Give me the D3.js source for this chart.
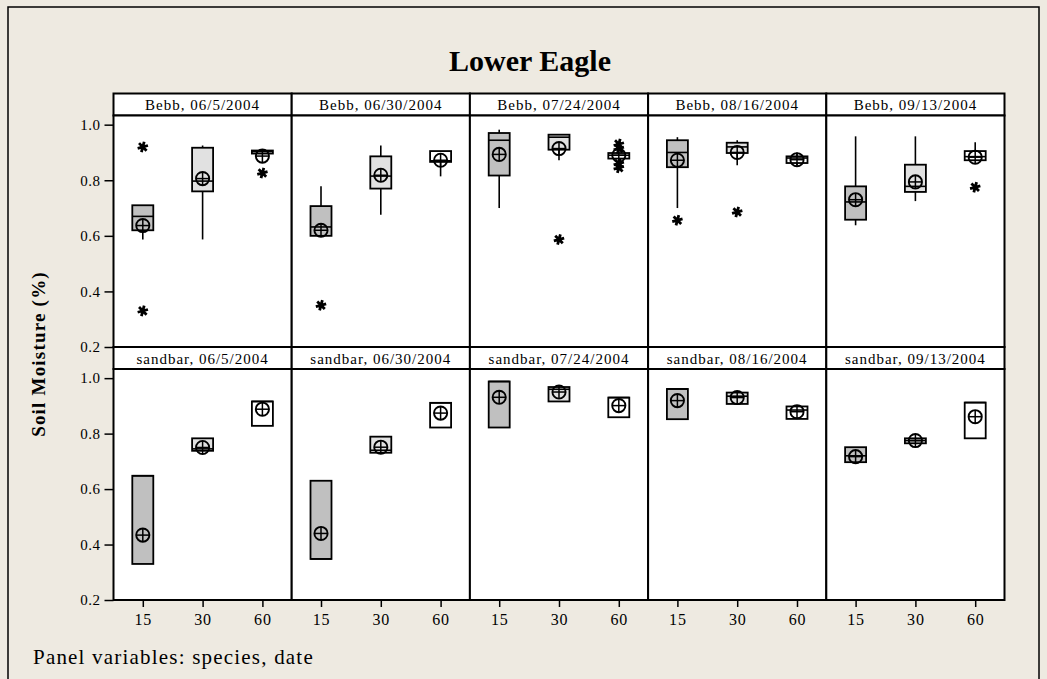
<!DOCTYPE html>
<html><head><meta charset="utf-8">
<script src="https://cdn.jsdelivr.net/npm/d3@7"></script>
<style>body{margin:0;background:#eeeae1;} svg{display:block;}</style>
</head><body>
<svg id="c" width="1047" height="679"></svg>
<script>
// ---- data ----
const speciesList = ["Bebb", "sandbar"];
const dateList = ["06/5/2004", "06/30/2004", "07/24/2004", "08/16/2004", "09/13/2004"];
const depths = ["15", "30", "60"];
const yTicks = [0.2, 0.4, 0.6, 0.8, 1.0];
// per panel (species-major, then date), per depth [15,30,60]
const whiskerLow = [
  [0.587, 0.587, 0.896], [0.600, 0.676, 0.814], [0.700, 0.872, 0.878], [0.700, 0.854, 0.855], [0.638, 0.725, 0.872],
  [0.330, 0.738, 0.828], [0.348, 0.731, 0.822], [0.822, 0.916, 0.859], [0.852, 0.907, 0.853], [0.697, 0.765, 0.783]
];
const q1 = [
  [0.620, 0.760, 0.896], [0.600, 0.770, 0.866], [0.817, 0.910, 0.878], [0.847, 0.898, 0.862], [0.658, 0.758, 0.872],
  [0.330, 0.738, 0.828], [0.348, 0.731, 0.822], [0.822, 0.916, 0.859], [0.852, 0.907, 0.853], [0.697, 0.765, 0.783]
];
const median = [
  [0.670, 0.797, 0.903], [0.632, 0.815, 0.870], [0.944, 0.955, 0.890], [0.900, 0.920, 0.880], [0.722, 0.778, 0.885],
  [0.648, 0.745, 0.916], [0.348, 0.740, 0.911], [0.988, 0.960, 0.930], [0.961, 0.935, 0.885], [0.720, 0.775, 0.912]
];
const q3 = [
  [0.710, 0.917, 0.907], [0.707, 0.886, 0.905], [0.970, 0.964, 0.898], [0.944, 0.935, 0.886], [0.778, 0.856, 0.905],
  [0.648, 0.783, 0.916], [0.630, 0.789, 0.911], [0.988, 0.968, 0.930], [0.961, 0.948, 0.898], [0.751, 0.783, 0.912]
];
const whiskerHigh = [
  [0.710, 0.925, 0.907], [0.778, 0.925, 0.905], [0.982, 0.964, 0.898], [0.955, 0.944, 0.900], [0.958, 0.958, 0.937],
  [0.648, 0.783, 0.916], [0.630, 0.789, 0.911], [0.988, 0.968, 0.930], [0.961, 0.948, 0.898], [0.751, 0.783, 0.912]
];
const means = [
  [0.637, 0.806, 0.887], [0.620, 0.818, 0.872], [0.893, 0.914, 0.890], [0.872, 0.900, 0.874], [0.730, 0.794, 0.883],
  [0.434, 0.750, 0.888], [0.440, 0.751, 0.874], [0.931, 0.950, 0.901], [0.919, 0.930, 0.879], [0.717, 0.775, 0.861]
];
const outliers = [
  [[0.92, 0.33], [], [0.826]], [[0.35], [], []], [[], [0.587], [0.93, 0.914, 0.86, 0.845]],
  [[0.656], [0.686], []], [[], [], [0.775]],
  [[], [], []], [[], [], []], [[], [], []], [[], [], []], [[], [], []]
];
const boxFill = ["#c0c0c0", "#e1e1e1", "#ffffff"];

// ---- layout ----
const svg = d3.select("#c");
const W = 1047, H = 679;
const font = "'Liberation Serif', 'Times New Roman', serif";
svg.append("rect").attr("x", 0).attr("y", 0).attr("width", W).attr("height", H).attr("fill", "#eeeae1");
svg.append("rect").attr("x", 8).attr("y", 7).attr("width", 1031).attr("height", 700)
  .attr("fill", "none").attr("stroke", "#000").attr("stroke-width", 1.5);

const left = 113.5, right = 1004.5;
const colX = d3.scaleBand().domain(d3.range(5)).range([left, right]).paddingInner(0).paddingOuter(0);
const rows = [{stripTop: 93.5, plotTop: 115.5, plotBottom: 347}, {stripTop: 347, plotTop: 369, plotBottom: 600}];
const xInner = d3.scalePoint().domain(depths).range([0, colX.bandwidth()]).padding(0.49);
const boxW = 21;

svg.append("text").attr("x", 530).attr("y", 71).attr("text-anchor", "middle")
  .attr("font-family", font).attr("font-weight", "bold").attr("font-size", 30).text("Lower Eagle");

svg.append("text").attr("transform", "translate(45,354) rotate(-90)").attr("text-anchor", "middle")
  .attr("font-family", font).attr("font-weight", "bold").attr("font-size", 19).attr("letter-spacing", 1.2)
  .text("Soil Moisture (%)");

svg.append("text").attr("x", 33).attr("y", 664).attr("font-family", font).attr("font-size", 21)
  .attr("letter-spacing", 1.2).text("Panel variables: species, date");

const asterisk = d3.symbol().type(d3.symbolAsterisk).size(80);

rows.forEach((row, ri) => {
  const y = d3.scaleLinear().domain([0.2, 1.033]).range([row.plotBottom, row.plotTop]);
  // y axis
  const ya = svg.append("g").attr("transform", `translate(${left},0)`)
    .call(d3.axisLeft(y).tickValues(yTicks).tickFormat(d3.format(".1f")).tickSize(9).tickPadding(4));
  ya.select(".domain").remove();
  ya.selectAll("line").attr("stroke-width", 1.5);
  ya.selectAll("text").attr("font-family", font).attr("font-size", 15).attr("fill", "#000").attr("letter-spacing", 0.5);

  dateList.forEach((dt, ci) => {
    const p = ri * 5 + ci;
    const x0 = colX(ci), w = colX.bandwidth();
    const g = svg.append("g").attr("transform", `translate(${x0},0)`);
    // strip
    g.append("rect").attr("x", 0).attr("y", row.stripTop).attr("width", w).attr("height", row.plotTop - row.stripTop)
      .attr("fill", "#fff").attr("stroke", "#000").attr("stroke-width", 2);
    g.append("text").attr("x", w / 2).attr("y", row.stripTop + 16.5).attr("text-anchor", "middle")
      .attr("font-family", font).attr("font-size", 15).attr("letter-spacing", 1)
      .text(`${speciesList[ri]}, ${dt}`);
    // plot area
    g.append("rect").attr("x", 0).attr("y", row.plotTop).attr("width", w).attr("height", row.plotBottom - row.plotTop)
      .attr("fill", "#fff");

    depths.forEach((d, di) => {
      const cx = xInner(d);
      // whiskers
      g.append("line").attr("x1", cx).attr("x2", cx).attr("y1", y(whiskerHigh[p][di])).attr("y2", y(q3[p][di]))
        .attr("stroke", "#000").attr("stroke-width", 1.6);
      g.append("line").attr("x1", cx).attr("x2", cx).attr("y1", y(q1[p][di])).attr("y2", y(whiskerLow[p][di]))
        .attr("stroke", "#000").attr("stroke-width", 1.6);
      // box
      g.append("rect").attr("x", cx - boxW / 2).attr("y", y(q3[p][di])).attr("width", boxW)
        .attr("height", Math.max(1, y(q1[p][di]) - y(q3[p][di])))
        .attr("fill", boxFill[di]).attr("stroke", "#000").attr("stroke-width", 1.8);
      // median
      g.append("line").attr("x1", cx - boxW / 2).attr("x2", cx + boxW / 2)
        .attr("y1", y(median[p][di])).attr("y2", y(median[p][di])).attr("stroke", "#000").attr("stroke-width", 1.6);
      // mean symbol
      const my = y(means[p][di]);
      g.append("circle").attr("cx", cx).attr("cy", my).attr("r", 6.6).attr("fill", "none")
        .attr("stroke", "#000").attr("stroke-width", 1.9);
      g.append("line").attr("x1", cx - 6.6).attr("x2", cx + 6.6).attr("y1", my).attr("y2", my)
        .attr("stroke", "#000").attr("stroke-width", 1.5);
      g.append("line").attr("x1", cx).attr("x2", cx).attr("y1", my - 6.6).attr("y2", my + 6.6)
        .attr("stroke", "#000").attr("stroke-width", 1.5);
      // outliers
      outliers[p][di].forEach(v => {
        g.append("path").attr("d", asterisk).attr("transform", `translate(${cx},${y(v)}) rotate(15)`)
          .attr("fill", "none").attr("stroke", "#000").attr("stroke-width", 2.8);
      });
    });
    // panel border
    g.append("rect").attr("x", 0).attr("y", row.plotTop).attr("width", w).attr("height", row.plotBottom - row.plotTop)
      .attr("fill", "none").attr("stroke", "#000").attr("stroke-width", 2);

    if (ri === 1) {
      const xa = g.append("g").attr("transform", `translate(0,${row.plotBottom})`)
        .call(d3.axisBottom(xInner).tickSize(7).tickPadding(7));
      xa.select(".domain").remove();
      xa.selectAll("line").attr("stroke-width", 1.5);
      xa.selectAll("text").attr("font-family", font).attr("font-size", 16).attr("fill", "#000").attr("letter-spacing", 0.8);
    }
  });
});
</script>
</body></html>
